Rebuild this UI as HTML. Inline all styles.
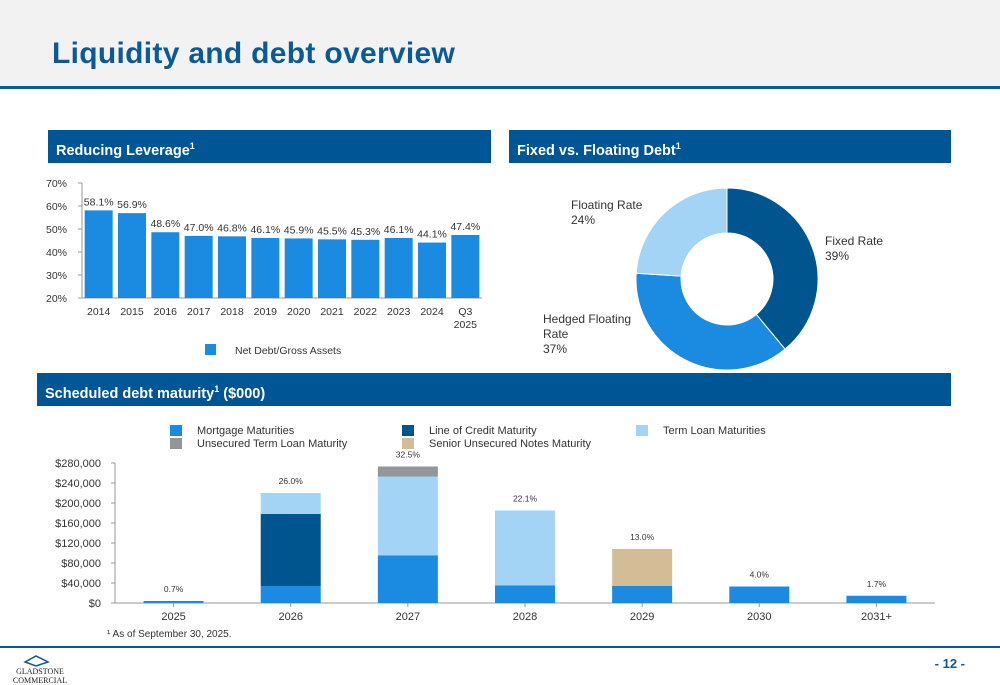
<!DOCTYPE html>
<html><head><meta charset="utf-8">
<style>
body{margin:0;width:1000px;height:685px;position:relative;background:#fff;font-family:"Liberation Sans",sans-serif;overflow:hidden}
.hdr{position:absolute;left:0;top:0;width:1000px;height:86px;background:#f2f2f2}
.hline{position:absolute;left:0;top:86px;width:1000px;height:3px;background:#0a5a97}
.title{position:absolute;left:52px;top:37px;font-size:30px;font-weight:bold;color:#0a5a97;letter-spacing:0.3px}
.sec{position:absolute;height:33px;background:#005695;color:#fff;font-weight:bold;font-size:14.5px;line-height:33px;padding-left:8px;box-sizing:border-box}
.sec sup{font-size:9px}
svg{position:absolute;left:0;top:0}
</style></head><body>
<div class="hdr"></div>
<div class="hline"></div>
<div class="title">Liquidity and debt overview</div>
<div class="sec" style="left:48px;top:130px;width:443px">Reducing Leverage<sup>1</sup></div>
<div class="sec" style="left:509px;top:130px;width:442px">Fixed vs. Floating Debt<sup>1</sup></div>
<div class="sec" style="left:37px;top:373px;width:914px">Scheduled debt maturity<sup>1</sup> ($000)</div>
<svg id="s" width="1000" height="685"></svg>
<script>
const levCats=["2014","2015","2016","2017","2018","2019","2020","2021","2022","2023","2024","Q3|2025"];
const levVals=[58.1,56.9,48.6,47.0,46.8,46.1,45.9,45.5,45.3,46.1,44.1,47.4];
const levTicks=[20,30,40,50,60,70];
const pieLabels=["Fixed Rate","Hedged Floating Rate","Floating Rate"];
const pieVals=[39,37,24];
const matCats=["2025","2026","2027","2028","2029","2030","2031+"];
const mortgage=[4000,34000,95000,35000,34000,33000,14500];
const lineCredit=[0,144000,0,0,0,0,0];
const termLoan=[0,42000,158000,150000,0,0,0];
const unsecTerm=[0,0,20000,0,0,0,0];
const seniorNotes=[0,0,0,0,74000,0,0];
const matPct=["0.7%","26.0%","32.5%","22.1%","13.0%","4.0%","1.7%"];
const matTicks=[0,40000,80000,120000,160000,200000,240000,280000];

const S=document.getElementById('s');const NS="http://www.w3.org/2000/svg";
function mk(t,a,txt){const e=document.createElementNS(NS,t);for(const k in a)e.setAttribute(k,a[k]);if(txt!=null)e.textContent=txt;S.appendChild(e);return e;}
const F="Liberation Sans, sans-serif";
// leverage chart
const lx0=82,lx1=482,ly=v=>298-(v-20)*2.3,lstep=(lx1-lx0)/levCats.length;
levTicks.forEach(t=>{let e=mk('text',{x:67,y:ly(t)+4,'font-size':10.5,'text-anchor':'end',fill:'#333','font-family':F},t+'%');
mk('line',{x1:lx0-4,x2:lx0,y1:ly(t),y2:ly(t),stroke:'#999'});});
mk('line',{x1:lx0,x2:lx0,y1:ly(70),y2:ly(20),stroke:'#999'});
mk('line',{x1:lx0,x2:lx1,y1:ly(20),y2:ly(20),stroke:'#999'});
levVals.forEach((v,i)=>{const cx=lx0+lstep*(i+0.5);
let b=mk('rect',{x:cx-14,y:ly(v),width:28,height:ly(20)-ly(v),fill:'#1a8be0'});

let t=mk('text',{x:cx,y:ly(v)-5,'font-size':10.5,'text-anchor':'middle',fill:'#333','font-family':F},v.toFixed(1)+'%');

levCats[i].split('|').forEach((p,j)=>{let c=mk('text',{x:cx,y:315+j*13,'font-size':10.5,'text-anchor':'middle',fill:'#333','font-family':F},p);
});});
let lg=mk('rect',{x:205,y:344,width:11,height:11,fill:'#1a8be0'});
let lt=mk('text',{x:235,y:354,'font-size':10.5,fill:'#333','font-family':F},'Net Debt/Gross Assets');
// donut
const pc=[727,279],ro=91,ri=46,pcols=['#00558f','#1a8be0','#a3d3f5'];
let tot=pieVals.reduce((a,b)=>a+b,0),ang=-Math.PI/2;
pieVals.forEach((v,i)=>{const a2=ang+v/tot*2*Math.PI,lg2=(a2-ang)>Math.PI?1:0;
const P=(r,a)=>(pc[0]+r*Math.cos(a)).toFixed(2)+','+(pc[1]+r*Math.sin(a)).toFixed(2);
let p=mk('path',{d:`M${P(ro,ang)}A${ro},${ro} 0 ${lg2} 1 ${P(ro,a2)}L${P(ri,a2)}A${ri},${ri} 0 ${lg2} 0 ${P(ri,ang)}Z`,fill:pcols[i],stroke:'#fff','stroke-width':1});
ang=a2;});
const plab=[[825,245,['Fixed Rate']],[543,323,['Hedged Floating','Rate']],[571,209,['Floating Rate']]];
plab.forEach((l,i)=>{const lines=l[2].concat([pieVals[i]+'%']);lines.forEach((s,j)=>{let t=mk('text',{x:l[0],y:l[1]+j*15,'font-size':12,fill:'#333','font-family':F},s);
});});
// maturity chart
const mx0=115,mx1=935,my=v=>603-v*0.0005,mstep=(mx1-mx0)/matCats.length;
matTicks.forEach(t=>{let e=mk('text',{x:101,y:my(t)+4,'font-size':11,'text-anchor':'end',fill:'#333','font-family':F},'$'+t.toLocaleString('en-US'));

mk('line',{x1:mx0-4,x2:mx0,y1:my(t),y2:my(t),stroke:'#999'});});
mk('line',{x1:mx0,x2:mx0,y1:my(280000),y2:my(0),stroke:'#999'});
mk('line',{x1:mx0,x2:mx1,y1:my(0),y2:my(0),stroke:'#999'});
const series=[[mortgage,'#1a8be0','mortgage'],[lineCredit,'#00558f','line-of-credit'],[termLoan,'#a3d3f5','term-loan'],[unsecTerm,'#939598','unsecured-term-loan'],[seniorNotes,'#d3bc96','senior-notes']];
matCats.forEach((c,i)=>{const cx=mx0+mstep*(i+0.5);let base=0;
series.forEach(s=>{const v=s[0][i];if(!v)return;
let r=mk('rect',{x:cx-30,y:my(base+v),width:60,height:my(base)-my(base+v),fill:s[1]});
base+=v;});
let t=mk('text',{x:cx,y:my(base)-9,'font-size':8.5,'text-anchor':'middle',fill:'#333','font-family':F},matPct[i]);

mk('line',{x1:cx,x2:cx,y1:my(0),y2:my(0)+4,stroke:'#999'});
let x=mk('text',{x:cx,y:620,'font-size':11,'text-anchor':'middle',fill:'#333','font-family':F},c);
});
const leg=[[170,425,'#1a8be0','Mortgage Maturities'],[402,425,'#00558f','Line of Credit Maturity'],[636,425,'#a3d3f5','Term Loan Maturities'],[170,438,'#939598','Unsecured Term Loan Maturity'],[402,438,'#d3bc96','Senior Unsecured Notes Maturity']];
leg.forEach(l=>{let r=mk('rect',{x:l[0],y:l[1],width:12,height:11,fill:l[2]});
let t=mk('text',{x:l[0]+27,y:l[1]+9,'font-size':11,fill:'#333','font-family':F},l[3]);});
let fn=mk('text',{x:107,y:637,'font-size':10,fill:'#333','font-family':F},'\u00b9 As of September 30, 2025.');
let fl=mk('rect',{x:0,y:646,width:1000,height:2,fill:'#0a5a97'});
let pg=mk('text',{x:965,y:668,'font-size':13,'font-weight':'bold','text-anchor':'end',fill:'#0a5a97','font-family':F},'- 12 -');
let lo=mk('path',{d:'M25,662 L36,656 L48,662 L36,666 Z',fill:'none',stroke:'#0a5a97','stroke-width':1.5});
let l1=mk('text',{x:40,y:674,'font-size':8,'text-anchor':'middle',fill:'#222','font-family':'Liberation Serif, serif'},'GLADSTONE');
let l2=mk('text',{x:40,y:683,'font-size':8,'text-anchor':'middle',fill:'#222','font-family':'Liberation Serif, serif'},'COMMERCIAL');
</script>
</body></html>
